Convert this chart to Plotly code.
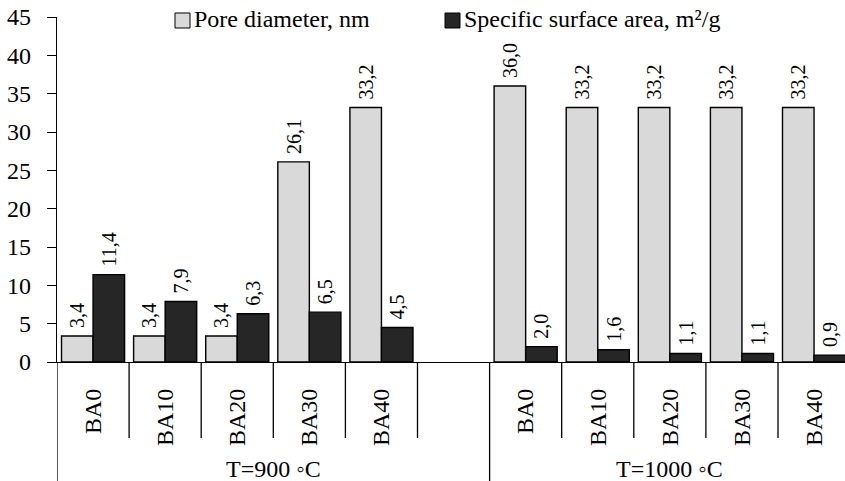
import plotly.graph_objects as go

# Samples fired at two temperatures; slot 5 is an empty spacer between groups
categories = ["BA0", "BA10", "BA20", "BA30", "BA40", "", "BA0", "BA10", "BA20", "BA30", "BA40"]
pore_diameter = [3.4, 3.4, 3.4, 26.1, 33.2, None, 36.0, 33.2, 33.2, 33.2, 33.2]
surface_area = [11.4, 7.9, 6.3, 6.5, 4.5, None, 2.0, 1.6, 1.1, 1.1, 0.9]
groups = ["T=900 ◦C", "T=1000 ◦C"]
y_ticks = list(range(0, 50, 5))

FONT = "Liberation Serif"
W, H = 845, 481
ML, MR, MT, MB = 57, 0, 17, 119
PW, PH = W - ML - MR, H - MT - MB
SLOT = 72.1  # px per category slot; the last slot runs past the right edge
X_MAX = -0.5 + PW / SLOT

positions = list(range(len(categories)))


def label(v):
    # leading no-break space lifts the rotated value label off the bar top
    return "" if v is None else "\u00a0" + f"{v:.1f}".replace(".", ",")


def px_x(px):
    return (px - ML) / PW


def px_y(py):
    return (H - MB - py) / PH


fig = go.Figure()
fig.add_trace(go.Bar(
    x=positions, y=pore_diameter, name="Pore diameter, nm",
    marker=dict(color="#d9d9d9", line=dict(color="#000000", width=1.4)),
    text=[label(v) for v in pore_diameter], textposition="outside",
    textangle=-90, textfont=dict(family=FONT, size=20, color="#000000"),
    cliponaxis=False, showlegend=False,
))
fig.add_trace(go.Bar(
    x=positions, y=surface_area, name="Specific surface area, m²/g",
    marker=dict(color="#262626", line=dict(color="#000000", width=1.4)),
    text=[label(v) for v in surface_area], textposition="outside",
    textangle=-90, textfont=dict(family=FONT, size=20, color="#000000"),
    cliponaxis=False, showlegend=False,
))

shapes = []
# Category dividers below the axis; the group edges run to the bottom
for i in range(len(categories)):
    b = i - 0.5
    is_group_edge = b in (-0.5, 5.5)
    shapes.append(dict(
        type="line", xref="x", yref="paper", x0=b, x1=b,
        y0=0, y1=px_y(481) if is_group_edge else px_y(438),
        line=dict(color="#000000", width=1.3),
    ))

# Legend keys drawn along the top of the plot
legend_items = [("#d9d9d9", 175, "Pore diameter, nm"),
                ("#262626", 445, "Specific surface area, m²/g")]
annotations = []
for color, x0, name in legend_items:
    shapes.append(dict(
        type="rect", xref="paper", yref="paper",
        x0=px_x(x0), x1=px_x(x0 + 15), y0=px_y(28), y1=px_y(13),
        fillcolor=color, line=dict(color="#000000", width=1),
    ))
    annotations.append(dict(
        text=name, xref="paper", yref="paper", x=px_x(x0 + 17), y=px_y(19),
        xanchor="left", yanchor="middle", showarrow=False,
        font=dict(family=FONT, size=24, color="#000000"),
    ))

# Temperature group labels
for text, xc in zip(groups, [2.5, 8.0]):
    annotations.append(dict(
        text=text, xref="x", yref="paper", x=xc, y=px_y(469),
        xanchor="center", yanchor="middle", showarrow=False,
        font=dict(family=FONT, size=24, color="#000000"),
    ))

fig.update_layout(
    width=W, height=H,
    margin=dict(l=ML, r=MR, t=MT, b=MB, pad=0),
    paper_bgcolor="#ffffff", plot_bgcolor="#ffffff",
    barmode="group", bargap=0.125, bargroupgap=0,
    shapes=shapes, annotations=annotations,
    font=dict(family=FONT, size=24, color="#000000"),
)
fig.update_traces(constraintext="none")
fig.update_xaxes(
    range=[-0.5, X_MAX],
    tickvals=[p for p, c in zip(positions, categories) if c],
    ticktext=[c for c in categories if c],
    tickangle=-90, ticks="", showgrid=False, zeroline=False,
    showline=True, linecolor="#000000", linewidth=1.3,
    tickfont=dict(family=FONT, size=24, color="#000000"),
    ticklabelstandoff=16,
)
fig.update_yaxes(
    range=[0, 45], tickvals=y_ticks, ticks="outside", ticklen=9,
    tickcolor="#000000", tickwidth=1.3, showgrid=False, zeroline=False,
    showline=True, linecolor="#000000", linewidth=1.3,
    tickfont=dict(family=FONT, size=24, color="#000000"),
    ticklabelstandoff=11,
)

fig.write_html("out.html")
